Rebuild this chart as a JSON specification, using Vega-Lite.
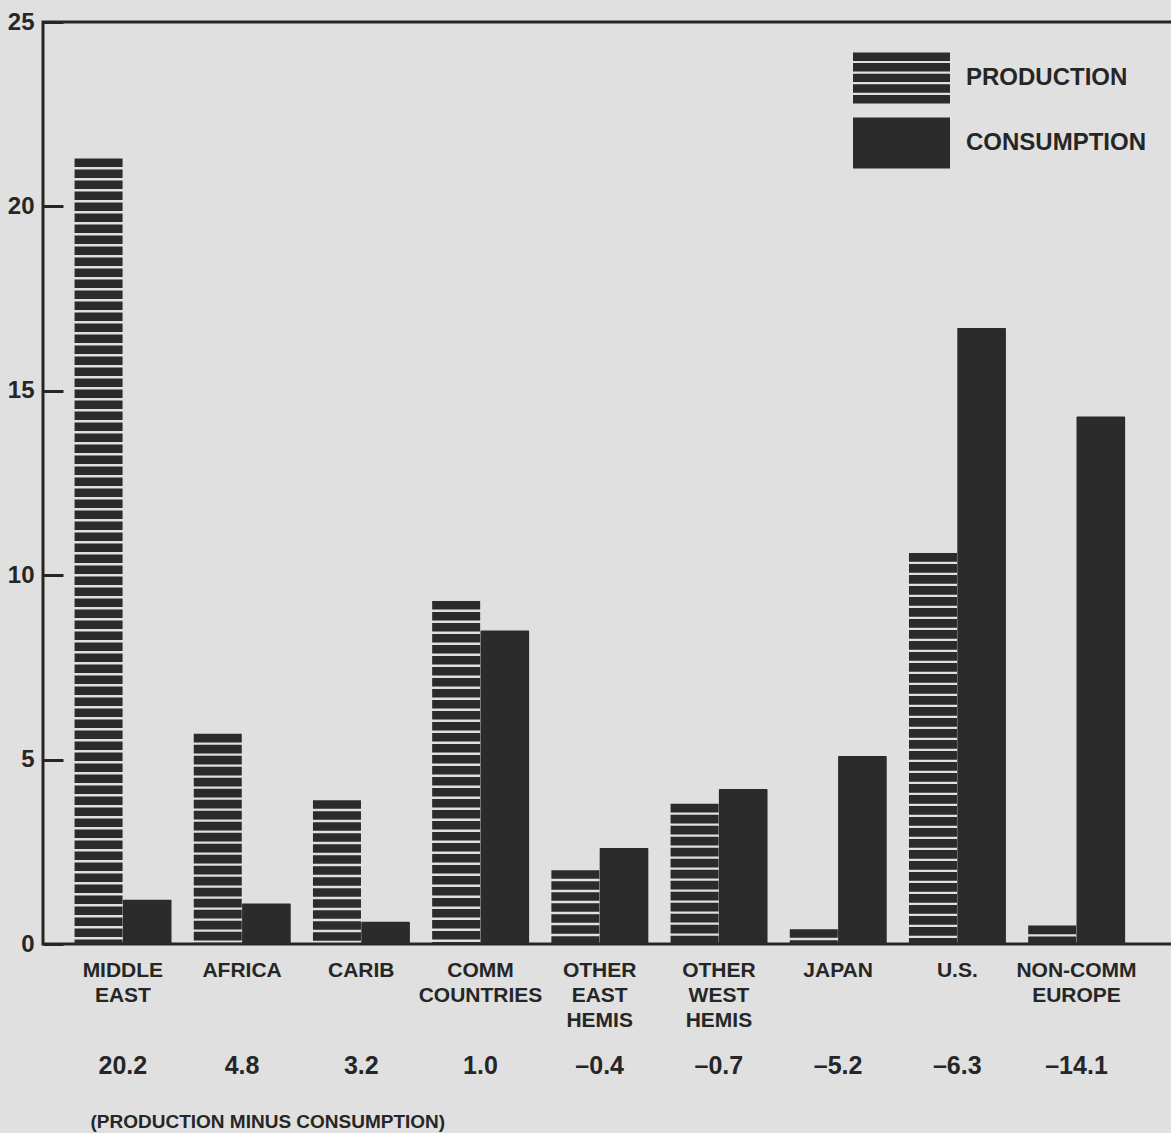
{
  "$schema": "https://vega.github.io/schema/vega-lite/v6.json",
  "width": 1131,
  "height": 922,
  "autosize": "none",
  "padding": {"left": 43, "top": 22, "right": 0, "bottom": 189},
  "background": "#e0e0e0",
  "view": {"stroke": "#262626", "strokeWidth": 3},
  "config": {
    "font": "Liberation Sans, Arial, sans-serif",
    "axis": {"labelColor": "#262626", "titleColor": "#262626", "labelFontWeight": "bold", "titleFontWeight": "bold", "grid": false}
  },
  "data": {
    "values": [
      {"region": "MIDDLE EAST", "series": "PRODUCTION", "value": 21.3, "net": "20.2"},
      {"region": "MIDDLE EAST", "series": "CONSUMPTION", "value": 1.2, "net": "20.2"},
      {"region": "AFRICA", "series": "PRODUCTION", "value": 5.7, "net": "4.8"},
      {"region": "AFRICA", "series": "CONSUMPTION", "value": 1.1, "net": "4.8"},
      {"region": "CARIB", "series": "PRODUCTION", "value": 3.9, "net": "3.2"},
      {"region": "CARIB", "series": "CONSUMPTION", "value": 0.6, "net": "3.2"},
      {"region": "COMM COUNTRIES", "series": "PRODUCTION", "value": 9.3, "net": "1.0"},
      {"region": "COMM COUNTRIES", "series": "CONSUMPTION", "value": 8.5, "net": "1.0"},
      {"region": "OTHER EAST HEMIS", "series": "PRODUCTION", "value": 2.0, "net": "-0.4"},
      {"region": "OTHER EAST HEMIS", "series": "CONSUMPTION", "value": 2.6, "net": "-0.4"},
      {"region": "OTHER WEST HEMIS", "series": "PRODUCTION", "value": 3.8, "net": "-0.7"},
      {"region": "OTHER WEST HEMIS", "series": "CONSUMPTION", "value": 4.2, "net": "-0.7"},
      {"region": "JAPAN", "series": "PRODUCTION", "value": 0.4, "net": "-5.2"},
      {"region": "JAPAN", "series": "CONSUMPTION", "value": 5.1, "net": "-5.2"},
      {"region": "U.S.", "series": "PRODUCTION", "value": 10.6, "net": "-6.3"},
      {"region": "U.S.", "series": "CONSUMPTION", "value": 16.7, "net": "-6.3"},
      {"region": "NON-COMM EUROPE", "series": "PRODUCTION", "value": 0.5, "net": "-14.1"},
      {"region": "NON-COMM EUROPE", "series": "CONSUMPTION", "value": 14.3, "net": "-14.1"}
    ]
  },
  "layer": [
    {
      "transform": [{"filter": "datum.series === 'PRODUCTION'"}],
      "mark": {"type": "rule", "strokeWidth": 48, "strokeDash": [8.6, 2.4], "strokeCap": "butt"},
      "encoding": {
        "x": {
          "field": "region", "type": "nominal", "sort": null,
          "scale": {"paddingInner": 0.184, "paddingOuter": 0.336, "align": 0.39},
          "axis": {
            "orient": "bottom", "title": null, "domain": false, "ticks": false,
            "labelAngle": 0, "labelFontSize": 21, "labelPadding": 15, "labelLineHeight": 25,
            "labelBaseline": "top", "labelLimit": 0, "labelExpr": "split(datum.label, ' ')"
          }
        },
        "xOffset": {"field": "series", "type": "nominal", "scale": {"domain": ["PRODUCTION", "CONSUMPTION"], "paddingInner": 0, "paddingOuter": 0}},
        "y": {
          "field": "value", "type": "quantitative",
          "scale": {"domain": [0, 25], "nice": false},
          "axis": {
            "title": null, "values": [0, 5, 10, 15, 20, 25], "domain": false,
            "tickSize": -20, "tickWidth": 3, "tickColor": "#262626",
            "labelPadding": 29, "labelFontSize": 24
          }
        },
        "y2": {"datum": 0},
        "color": {
          "field": "series", "type": "nominal",
          "scale": {"domain": ["PRODUCTION", "CONSUMPTION"], "range": ["#2b2b2b", "#2b2b2b"]},
          "legend": {
            "orient": "none", "legendX": 810, "legendY": 30, "title": null,
            "padding": 0, "symbolSize": 9409, "labelFontSize": 24, "labelFontWeight": "bold",
            "labelColor": "#262626", "labelOffset": 16, "rowPadding": 13, "clipHeight": 52, "labelLimit": 0,
            "encode": {
              "symbols": {
                "update": {
                  "shape": {"signal": "datum.value === 'PRODUCTION' ? 'M-1,-0.526H1V-0.353H-1Z M-1,-0.307H1V-0.134H-1Z M-1,-0.088H1V0.085H-1Z M-1,0.131H1V0.304H-1Z M-1,0.35H1V0.526H-1Z' : 'M-1,-0.526H1V0.526H-1Z'"},
                  "fill": {"value": "#2b2b2b"},
                  "stroke": {"value": "transparent"},
                  "strokeWidth": {"value": 0},
                  "opacity": {"value": 1}
                }
              }
            }
          }
        }
      }
    },
    {
      "transform": [{"filter": "datum.series === 'CONSUMPTION'"}],
      "mark": {"type": "bar", "cornerRadius": 1},
      "encoding": {
        "x": {
          "field": "net", "type": "nominal", "sort": null,
          "scale": {"paddingInner": 0.184, "paddingOuter": 0.336, "align": 0.39},
          "axis": {
            "orient": "bottom", "title": "(PRODUCTION MINUS CONSUMPTION)", "domain": false, "ticks": false,
            "labelAngle": 0, "labelFontSize": 25, "labelPadding": 109, "labelBaseline": "top", "labelLimit": 0,
            "labelExpr": "replace(datum.label, '-', '–')",
            "titleFontSize": 19, "titleAnchor": "start", "titleAlign": "left",
            "titleX": 47, "titleY": 168, "titleBaseline": "top"
          }
        },
        "xOffset": {"field": "series", "type": "nominal", "scale": {"domain": ["PRODUCTION", "CONSUMPTION"], "paddingInner": 0, "paddingOuter": 0}},
        "y": {"field": "value", "type": "quantitative", "scale": {"domain": [0, 25], "nice": false}},
        "y2": {"datum": 0},
        "color": {"field": "series", "type": "nominal", "scale": {"domain": ["PRODUCTION", "CONSUMPTION"], "range": ["#2b2b2b", "#2b2b2b"]}}
      }
    }
  ],
  "resolve": {"scale": {"x": "independent"}, "axis": {"x": "independent"}}
}
